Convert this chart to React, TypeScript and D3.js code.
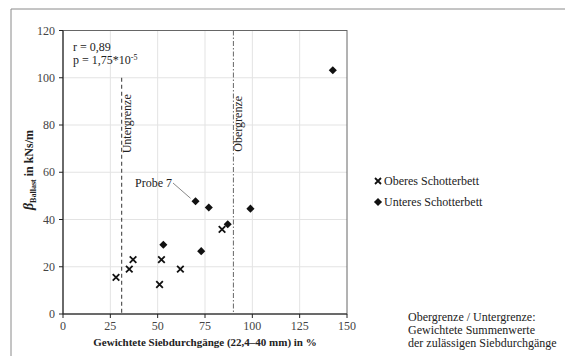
import * as d3 from "d3";
import React from "react";

// Oberes Schotterbett (x markers)
const oberesX = [28, 35, 37, 51, 52, 62, 84];
const oberesY = [15.5, 19, 23, 12.5, 23, 19, 35.8];
// Unteres Schotterbett (diamonds)
const unteresX = [53, 70, 73, 77, 87, 99, 142.5];
const unteresY = [29.3, 47.7, 26.6, 45.1, 38, 44.6, 103.2];

const xTicks = [0, 25, 50, 75, 100, 125, 150];
const yTicks = [0, 20, 40, 60, 80, 100, 120];
const untergrenze = 31;
const obergrenze = 90;
const noteLines = [
  "Obergrenze / Untergrenze:",
  "Gewichtete Summenwerte",
  "der zulässigen Siebdurchgänge",
];

const W = 565;
const H = 356;
const font = "'Liberation Serif', 'Times New Roman', serif";

export default function App() {
  const m = { left: 63, right: 347, top: 30.5, bottom: 314 };
  const x = d3.scaleLinear().domain([0, 150]).range([m.left, m.right]);
  const y = d3.scaleLinear().domain([0, 120]).range([m.bottom, m.top]);

  const diamond = d3.symbol().type(d3.symbolDiamond2).size(42)() ?? "";
  const cross = (cx: number, cy: number, s = 3.3) =>
    `M${cx - s},${cy - s}L${cx + s},${cy + s}M${cx - s},${cy + s}L${cx + s},${cy - s}`;

  const probe = { x: unteresX[1], y: unteresY[1] };

  return (
    <svg
      width={W}
      height={H}
      style={{ position: "fixed", left: 0, top: 0, background: "#fff" }}
      fontFamily={font}
    >
      {/* outer frame */}
      <line x1={11} x2={W} y1={9} y2={9} stroke="#8a8a8a" strokeWidth={1} />
      <line x1={11} x2={11} y1={9} y2={H} stroke="#8a8a8a" strokeWidth={1} />

      {/* grid */}
      {xTicks.slice(1, -1).map((t) => (
        <line key={"gx" + t} x1={x(t)} x2={x(t)} y1={m.top} y2={m.bottom} stroke="#e3e3e3" />
      ))}
      {yTicks.slice(1, -1).map((t) => (
        <line key={"gy" + t} x1={m.left} x2={m.right} y1={y(t)} y2={y(t)} stroke="#e3e3e3" />
      ))}

      {/* plot border */}
      <rect x={m.left} y={m.top} width={m.right - m.left} height={m.bottom - m.top} fill="none" stroke="#666" />
      <line x1={m.left} x2={m.right} y1={m.bottom} y2={m.bottom} stroke="#222" />
      <line x1={m.left} x2={m.left} y1={m.top} y2={m.bottom} stroke="#222" />

      {/* ticks + labels */}
      {xTicks.map((t) => (
        <g key={"xt" + t}>
          <line x1={x(t)} x2={x(t)} y1={m.bottom} y2={m.bottom + 4} stroke="#222" />
          <text x={x(t)} y={m.bottom + 16} textAnchor="middle" fontSize={12} fill="#444">
            {t}
          </text>
        </g>
      ))}
      {yTicks.map((t) => (
        <g key={"yt" + t}>
          <line x1={m.left - 4} x2={m.left} y1={y(t)} y2={y(t)} stroke="#222" />
          <text x={m.left - 8} y={y(t)} dy="0.35em" textAnchor="end" fontSize={12} fill="#444">
            {t}
          </text>
        </g>
      ))}

      {/* Grenzen */}
      <line
        x1={x(untergrenze)}
        x2={x(untergrenze)}
        y1={y(100)}
        y2={m.bottom}
        stroke="#333"
        strokeDasharray="4 3"
      />
      <text
        transform={`translate(${x(untergrenze) + 9},${y(80.5)}) rotate(-90)`}
        textAnchor="middle"
        fontSize={12}
        fill="#222"
      >
        Untergrenze
      </text>
      <line
        x1={x(obergrenze)}
        x2={x(obergrenze)}
        y1={m.top}
        y2={m.bottom}
        stroke="#666"
        strokeDasharray="5 2 1.5 2"
      />
      <text
        transform={`translate(${x(obergrenze) + 9},${y(80.5)}) rotate(-90)`}
        textAnchor="middle"
        fontSize={12}
        fill="#222"
      >
        Obergrenze
      </text>

      {/* stats */}
      <text x={73} y={51} fontSize={12} fill="#222">r = 0,89</text>
      <text x={73} y={64} fontSize={12} fill="#222">
        p = 1,75*10
        <tspan dy={-4} fontSize={8}>-5</tspan>
      </text>

      {/* Probe 7 */}
      <line x1={173} y1={183} x2={x(probe.x) - 5} y2={y(probe.y) - 3} stroke="#888" />
      <text x={172} y={187} textAnchor="end" fontSize={12} fill="#222">
        Probe 7
      </text>

      {/* points */}
      {oberesX.map((v, i) => (
        <path key={"o" + i} d={cross(x(v), y(oberesY[i]))} stroke="#111" strokeWidth={1.8} fill="none" />
      ))}
      {unteresX.map((v, i) => (
        <path key={"u" + i} d={diamond} transform={`translate(${x(v)},${y(unteresY[i])})`} fill="#111" />
      ))}

      {/* axis titles */}
      <text x={205} y={346} textAnchor="middle" fontSize={11} fontWeight="bold" fill="#222">
        Gewichtete Siebdurchgänge (22,4–40 mm) in %
      </text>
      <text transform="translate(33,170) rotate(-90)" textAnchor="middle" fontSize={12} fontWeight="bold" fill="#222">
        <tspan fontStyle="italic" fontSize={14}>β</tspan>
        <tspan fontSize={8} dy={3}>Ballast</tspan>
        <tspan dy={-3}> in kNs/m</tspan>
      </text>

      {/* legend */}
      <path d={cross(378, 181, 3)} stroke="#111" strokeWidth={1.8} fill="none" />
      <text x={384} y={185} fontSize={12} fill="#222">Oberes Schotterbett</text>
      <path d={diamond} transform="translate(378,202)" fill="#111" />
      <text x={384} y={206} fontSize={12} fill="#222">Unteres Schotterbett</text>

      {/* note */}
      {noteLines.map((l, i) => (
        <text key={l} x={408} y={321 + i * 13} fontSize={12} fill="#222">
          {l}
        </text>
      ))}
    </svg>
  );
}
